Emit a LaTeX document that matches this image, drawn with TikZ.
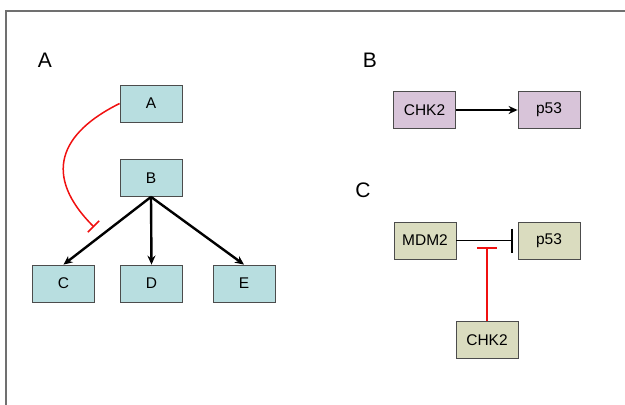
\documentclass[tikz,border=0pt]{standalone}
\usepackage{fontspec}
\setmainfont{Liberation Sans}
\usetikzlibrary{arrows.meta}
\definecolor{cyanbox}{HTML}{B8DEE0}
\definecolor{purpbox}{HTML}{D8C4D9}
\definecolor{olivebox}{HTML}{DADCBF}
\definecolor{framegray}{HTML}{707070}
\definecolor{inhred}{HTML}{F01010}
\tikzset{
  gbox/.style={draw=black!70, line width=0.8pt, minimum width=62pt, minimum height=37pt, inner sep=0pt, font=\fontsize{15.5}{18}\selectfont},
  abox/.style={gbox, fill=cyanbox},
  bbox/.style={gbox, fill=purpbox},
  cbox/.style={gbox, fill=olivebox},
  panel/.style={font=\fontsize{21}{24}\selectfont, inner sep=0pt},
  act/.style={line width=2.4pt, -{Stealth[length=9pt,width=8pt]}},
  inhib/.style={inhred, line width=1.5pt},
}
\begin{document}
\begin{tikzpicture}[x=1pt,y=-1pt]
\useasboundingbox (0,0) rectangle (625,405);
\draw[framegray, line width=1.5pt] (6,410) -- (6,11) -- (630,11);
% panel labels
\node[panel] (lA) at (45,60) {A};
\node[panel] (lB) at (370,60) {B};
\node[panel] (lC) at (363,190) {C};
% panel A
\node[abox] (a) at (151,103.5) {A};
\node[abox] (b) at (151,178) {B};
\node[abox] (c) at (63.5,283.5) {C};
\node[abox] (d) at (151.5,283.5) {D};
\node[abox] (e) at (244,283.5) {E};
\coordinate (aend) at (94,227);
\draw[inhib, -{Bar[width=16pt]}] (a.west) .. controls (60,133) and (42,175) .. (aend);
\draw[act] (b.south) -- (c.north);
\draw[act] (b.south) -- (d.north);
\draw[act] (b.south) -- (e.north);
% panel B
\node[bbox] (chkb) at (424.5,110) {CHK2};
\node[bbox] (p53b) at (549,110) {p53};
\draw[act, line width=2.6pt] (chkb) -- (p53b);
% panel C
\node[cbox] (mdm) at (425,240.5) {MDM2};
\node[cbox] (p53c) at (549,240.5) {p53};
\node[cbox] (chkc) at (487,340) {CHK2};
\draw[black, line width=1.7pt, -{Bar[width=24pt]}, shorten >=5pt] (mdm) -- (p53c);
\coordinate (cend) at (487,247);
\draw[inhib, -{Bar[width=20pt]}] (chkc.north) -- (cend);
\end{tikzpicture}
\end{document}
